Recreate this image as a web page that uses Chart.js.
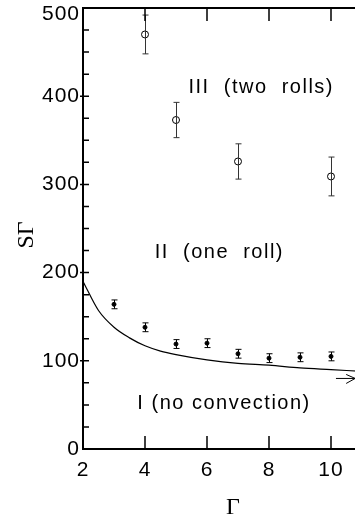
<!DOCTYPE html>
<html>
<head>
<meta charset="utf-8">
<script src="https://cdn.jsdelivr.net/npm/chart.js@4/dist/chart.umd.min.js"></script>
<style>
  html, body { margin: 0; padding: 0; background: #fff; overflow: hidden; }
  #wrap { width: 380px; height: 530px; }
  #myChart { display: block; }
</style>
</head>
<body>
<div id="wrap"><canvas id="myChart" width="380" height="530"></canvas></div>
<script>
'use strict';
// critical curve (solid line)
let curveG = [2, 2.5, 3, 3.5, 4, 4.5, 5, 6, 7, 8, 9, 10, 11];
let curveS = [190, 157, 138, 126, 117, 111, 107, 101, 97, 95, 92, 90, 88];
// onset of one roll (filled dots)
let oneRollG = [3, 4, 5, 6, 7, 8, 9, 10];
let oneRollS = [164, 138, 119, 120, 108, 103, 104, 105];
let oneRollErr = [5, 5, 5, 5, 5, 5, 5, 5];
// onset of two rolls (open circles)
let twoRollG = [4, 5, 7, 10];
let twoRollS = [470, 373, 326, 309];
let twoRollErr = [22, 20, 20, 22];
// region names
let regionText = ['III  (two  rolls)', 'II  (one  roll)', 'I (no convection)'];
let regionG = [7.75, 6.4, 6.55];
let regionS = [410, 223, 52];
// limit arrow
let arrowG = [10.16, 10.78];
let arrowS = 80;

let shift = 0;   // moves the canvas up so the plot box starts at y=8

function pts(xs, ys) {
    let out = [];
    for (let i = 0; i < xs.length; i++) {
        out.push({ x: xs[i], y: ys[i] });
    }
    return out;
}

let extras = {
    id: 'extras',
    beforeDraw(chart) {
        chart.ctx.letterSpacing = '1px';
    },
    afterDatasetsDraw(chart) {
        let ctx = chart.ctx;
        let xs = chart.scales.x;
        let ys = chart.scales.y;
        let a = chart.chartArea;
        ctx.save();
        ctx.strokeStyle = '#000';
        ctx.fillStyle = '#000';

        // error bars
        function bars(gs, ss, es, color) {
            ctx.strokeStyle = color;
            ctx.lineWidth = 1;
            for (let i = 0; i < gs.length; i++) {
                let px = Math.round(xs.getPixelForValue(gs[i])) + 0.5;
                let t = ys.getPixelForValue(ss[i] + es[i]);
                let b = ys.getPixelForValue(ss[i] - es[i]);
                ctx.beginPath();
                ctx.moveTo(px, t); ctx.lineTo(px, b);
                ctx.moveTo(px - 3, t); ctx.lineTo(px + 3, t);
                ctx.moveTo(px - 3, b); ctx.lineTo(px + 3, b);
                ctx.stroke();
            }
        }
        bars(oneRollG, oneRollS, oneRollErr, '#000');
        bars(twoRollG, twoRollS, twoRollErr, '#333');

        // frame
        ctx.strokeStyle = '#000';
        ctx.lineWidth = 2;
        ctx.strokeRect(a.left, a.top, a.right - a.left, a.bottom - a.top);

        // inward ticks
        ctx.lineWidth = 1.5;
        ctx.beginPath();
        ys.ticks.forEach(function (t) {
            if (t.value <= ys.min || t.value >= ys.max) return;
            let py = ys.getPixelForValue(t.value);
            ctx.moveTo(a.left, py); ctx.lineTo(a.left + 6, py);
            if (t.value % 100 === 0) {
                ctx.moveTo(a.left - 3, py); ctx.lineTo(a.left, py);
                ctx.moveTo(a.right, py); ctx.lineTo(a.right - 7, py);
            }
        });
        xs.ticks.forEach(function (t) {
            if (t.value <= xs.min || t.value >= xs.max) return;
            let px = xs.getPixelForValue(t.value);
            ctx.moveTo(px, a.bottom); ctx.lineTo(px, a.bottom - 13);
            ctx.moveTo(px, a.top); ctx.lineTo(px, a.top + 13);
        });
        ctx.stroke();

        // region labels
        ctx.letterSpacing = '1.5px';
        ctx.font = '20px "Liberation Sans", Arial, sans-serif';
        ctx.textAlign = 'center';
        ctx.textBaseline = 'middle';
        for (let i = 0; i < regionText.length; i++) {
            ctx.fillText(regionText[i], xs.getPixelForValue(regionG[i]), ys.getPixelForValue(regionS[i]));
        }

        // arrow toward the large aspect ratio limit
        let x0 = xs.getPixelForValue(arrowG[0]);
        let x1 = xs.getPixelForValue(arrowG[1]);
        let ay = ys.getPixelForValue(arrowS);
        ctx.lineWidth = 1;
        ctx.beginPath();
        ctx.moveTo(x0, ay); ctx.lineTo(x1, ay);
        ctx.moveTo(x1 - 9, ay - 4); ctx.lineTo(x1, ay);
        ctx.moveTo(x1 - 9, ay + 5); ctx.lineTo(x1, ay);
        ctx.stroke();

        // axis titles
        ctx.letterSpacing = '0px';
        ctx.font = '24px "Liberation Serif", "Times New Roman", serif';
        ctx.textAlign = 'center';
        ctx.textBaseline = 'middle';
        ctx.fillText('\u0393', 233, 508 + shift);
        ctx.translate(27, 235 + shift);
        ctx.rotate(-Math.PI / 2);
        ctx.fillText('S\u0393', 0, 0);
        ctx.restore();
    }
};

let fontFamily = '"Liberation Sans", Arial, sans-serif';
let canvas = document.getElementById('myChart');
let ctx = canvas.getContext('2d');
let myChart = new Chart(ctx, {
    type: 'scatter',
    data: {
        datasets: [{
            label: 'critical',
            type: 'line',
            data: pts(curveG, curveS),
            borderColor: '#000',
            borderWidth: 1.2,
            pointRadius: 0,
            cubicInterpolationMode: 'monotone',
            fill: false
        }, {
            label: 'one roll',
            data: pts(oneRollG, oneRollS),
            pointRadius: 2,
            pointBackgroundColor: '#000',
            pointBorderColor: '#000',
            pointBorderWidth: 1
        }, {
            label: 'two rolls',
            data: pts(twoRollG, twoRollS),
            pointRadius: 3.5,
            pointBackgroundColor: '#fff',
            pointBorderColor: '#000',
            pointBorderWidth: 1
        }]
    },
    plugins: [extras],
    options: {
        responsive: false,
        animation: false,
        events: [],
        layout: { padding: { left: 0, top: 0, right: 18, bottom: 0 } },
        plugins: {
            legend: { display: false },
            tooltip: { enabled: false }
        },
        scales: {
            x: {
                type: 'linear',
                min: 2,
                max: 11,
                afterFit: function (s) { s.height = 530 - 449 - shift; },
                border: { display: false },
                grid: { display: false, drawTicks: false },
                ticks: {
                    stepSize: 2,
                    includeBounds: false,
                    padding: 9,
                    color: '#000',
                    autoSkip: false,
                    maxRotation: 0,
                    font: { family: fontFamily, size: 21 },
                    callback: function (v) { return v % 2 === 0 ? String(v) : ''; }
                }
            },
            y: {
                min: 0,
                max: 500,
                afterFit: function (s) { s.width = 83; },
                border: { display: false },
                grid: { display: false, drawTicks: false },
                ticks: {
                    stepSize: 25,
                    padding: 3,
                    color: '#000',
                    autoSkip: false,
                    // the top label sits a little below its tick, as in the original
                    font: function (c) {
                        if (c.tick && c.tick.value === 500) {
                            return { family: fontFamily, size: 21, lineHeight: '12px' };
                        }
                        return { family: fontFamily, size: 21 };
                    },
                    callback: function (v) {
                        if (v === 500) return ['', '500'];
                        return v % 100 === 0 ? String(v) : '';
                    }
                }
            }
        }
    }
});

shift = myChart.chartArea.top - 8;
canvas.style.marginTop = (-shift) + 'px';
myChart.update();
</script>
</body>
</html>
